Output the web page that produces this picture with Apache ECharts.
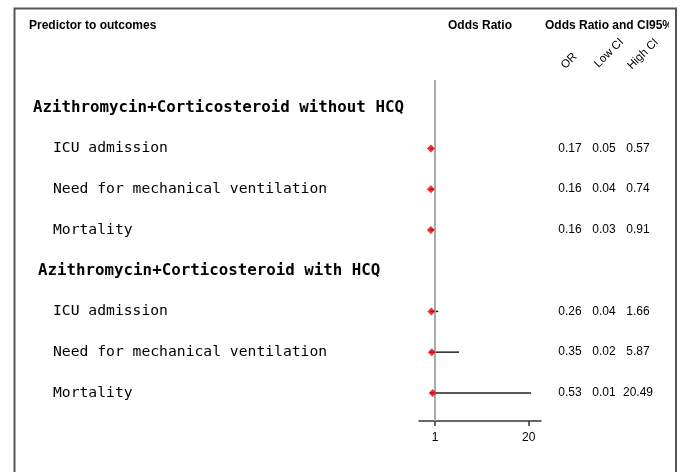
<!DOCTYPE html>
<html>
<head>
<meta charset="utf-8">
<script src="https://cdn.jsdelivr.net/npm/echarts@6/dist/echarts.min.js"></script>
<style>
  html, body { margin: 0; padding: 0; background: #fff; }
  #chart { width: 681px; height: 472px; }
</style>
</head>
<body>
<div id="chart"></div>
<script>
var groups = ['Azithromycin+Corticosteroid without HCQ', 'Azithromycin+Corticosteroid with HCQ'];
var outcomes = ['ICU admission', 'Need for mechanical ventilation', 'Mortality'];
var orValues = [0.17, 0.16, 0.16, 0.26, 0.35, 0.53];
var lowCI = [0.05, 0.04, 0.03, 0.04, 0.02, 0.01];
var highCI = [0.57, 0.74, 0.91, 1.66, 5.87, 20.49];
var xTicks = [1, 20];
var colLabels = ['OR', 'Low CI', 'High CI'];

// row layout: each group gets a header row followed by its outcomes
var rows = [];
var k = 0;
groups.forEach(function (g, gi) {
  rows.push({ row: rows.length, text: g, header: true, indent: gi === 0 ? 33 : 38 });
  outcomes.forEach(function (o) {
    rows.push({ row: rows.length, text: o, header: false, indent: 53, idx: k });
    k++;
  });
});

var pointData = [], barData = [], tableData = [];
rows.forEach(function (r) {
  tableData.push([0, r.row]);
  if (!r.header) {
    pointData.push([orValues[r.idx], r.row]);
    barData.push([lowCI[r.idx], highCI[r.idx], r.row]);
  }
});

var numFont = '12px "Liberation Sans", Arial, sans-serif';
var colX = [570, 604, 638];

var mychart = echarts.init(document.getElementById('chart'));
var option = {
  animation: false,
  grid: { left: 419, right: 140, top: 80, bottom: 51 },
  xAxis: {
    type: 'value',
    position: 'bottom',
    min: -2.25,
    max: 22.5,
    splitLine: { show: false },
    axisLine: { show: true, onZero: false, lineStyle: { color: '#333', width: 1.5 } },
    axisTick: { show: true, customValues: xTicks, length: 5, lineStyle: { color: '#333', width: 1.5 } },
    axisLabel: { customValues: xTicks, color: '#000', fontSize: 12, fontFamily: 'Liberation Sans, Arial, sans-serif', margin: 11 }
  },
  yAxis: {
    type: 'value',
    inverse: true,
    min: -0.68,
    max: 7.69,
    show: false
  },
  graphic: [
    { type: 'rect', shape: { x: 14.5, y: 8.5, width: 661.5, height: 480 }, style: { fill: 'none', stroke: '#555', lineWidth: 2 }, silent: true },
    { type: 'text', x: 29, y: 26, style: { text: 'Predictor to outcomes', font: 'bold 12px "Liberation Sans", Arial, sans-serif', fill: '#000', textVerticalAlign: 'middle' } },
    { type: 'text', x: 448, y: 26, style: { text: 'Odds Ratio', font: 'bold 12px "Liberation Sans", Arial, sans-serif', fill: '#000', textVerticalAlign: 'middle' } },
    { type: 'text', x: 545, y: 26, style: { text: 'Odds Ratio and CI95%', font: 'bold 12px "Liberation Sans", Arial, sans-serif', fill: '#000', textVerticalAlign: 'middle' }, clipPath: { type: 'rect', shape: { x: 0, y: -20, width: 124, height: 40 } } },
    { type: 'text', x: 569, y: 61, rotation: Math.PI / 4, style: { text: colLabels[0], font: '11.5px "Liberation Sans", Arial, sans-serif', fill: '#000', textAlign: 'center', textVerticalAlign: 'middle' } },
    { type: 'text', x: 609, y: 53, rotation: Math.PI / 4, style: { text: colLabels[1], font: '11.5px "Liberation Sans", Arial, sans-serif', fill: '#000', textAlign: 'center', textVerticalAlign: 'middle' } },
    { type: 'text', x: 643, y: 54, rotation: Math.PI / 4, style: { text: colLabels[2], font: '11.5px "Liberation Sans", Arial, sans-serif', fill: '#000', textAlign: 'center', textVerticalAlign: 'middle' } }
  ],
  series: [
    {
      type: 'custom',
      name: 'ci',
      encode: { x: [0, 1], y: 2 },
      data: barData,
      z: 2,
      renderItem: function (params, api) {
        var a = api.coord([api.value(0), api.value(2)]);
        var b = api.coord([api.value(1), api.value(2)]);
        return {
          type: 'line',
          shape: { x1: a[0], y1: a[1], x2: b[0], y2: b[1] },
          style: { stroke: '#222', lineWidth: 1.5 }
        };
      }
    },
    {
      type: 'scatter',
      name: 'OR',
      data: pointData,
      symbol: 'diamond',
      symbolSize: 8,
      itemStyle: { color: '#ee0000' },
      z: 5,
      markLine: {
        silent: true,
        symbol: 'none',
        label: { show: false },
        lineStyle: { color: '#aaa', width: 2, type: 'solid' },
        data: [{ xAxis: 1 }]
      }
    },
    {
      type: 'custom',
      name: 'table',
      encode: { x: 0, y: 1 },
      data: tableData,
      clip: false,
      renderItem: function (params, api) {
        var r = rows[params.dataIndex];
        var y = api.coord([0, api.value(1)])[1];
        var children = [{
          type: 'text',
          x: r.indent, y: y,
          style: {
            text: r.text,
            font: (r.header ? 'bold 15.8px' : '14.7px') + ' "DejaVu Sans Mono", monospace',
            fill: '#000',
            textVerticalAlign: 'middle'
          }
        }];
        if (!r.header) {
          var vals = [orValues[r.idx], lowCI[r.idx], highCI[r.idx]];
          vals.forEach(function (v, i) {
            children.push({
              type: 'text',
              x: colX[i], y: y,
              style: { text: v.toFixed(2), font: numFont, fill: '#000', textAlign: 'center', textVerticalAlign: 'middle' }
            });
          });
        }
        return { type: 'group', children: children };
      }
    }
  ]
};
mychart.setOption(option);
</script>
</body>
</html>
